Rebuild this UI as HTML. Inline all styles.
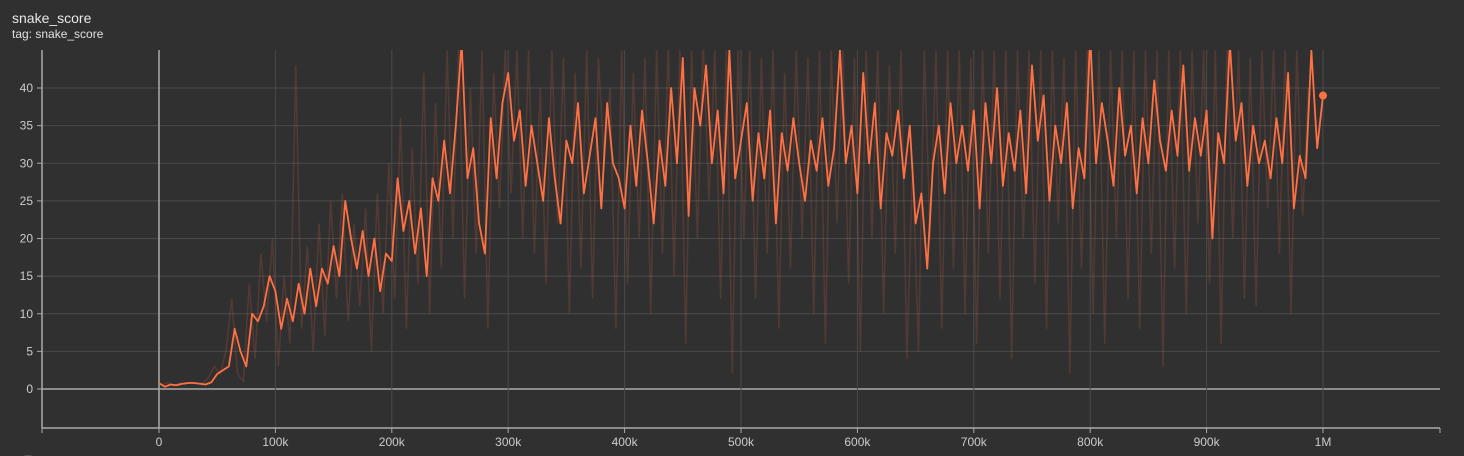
<!DOCTYPE html>
<html><head><meta charset="utf-8"><style>
html,body{margin:0;background:#303030;width:1464px;height:456px;overflow:hidden;font-family:"Liberation Sans",sans-serif}
#t{position:absolute;left:12px;top:10px;color:#e8e8e8;font-size:14px}
#s{position:absolute;left:12px;top:27px;color:#e0e0e0;font-size:12px}
svg{position:absolute;left:0;top:0;display:block}
</style></head><body>
<div id="t">snake_score</div>
<div id="s">tag: snake_score</div>
<svg id="c" width="1464" height="456"></svg>
<script>
const smoothValues=[0.8,0.3,0.6,0.5,0.7,0.8,0.8,0.7,0.6,0.9,2,2.5,3,8,5,3,10,9,11,15,13,8,12,9,14,10,16,11,16,14,19,15,25,20,16,21,15,20,13,18,17,28,21,25,18,24,15,28,25,33,26,35,46,28,32,22,18,36,28,38,42,33,37,27,35,30,25,36,28,22,33,30,38,26,31,36,24,38,30,28,24,35,27,37,30,22,33,27,40,30,44,23,40,35,43,30,37,26,45,28,33,38,25,34,28,37,22,34,29,36,30,25,33,29,36,27,32,45,30,35,26,42,30,38,24,34,31,37,28,35,22,26,16,30,35,26,38,30,35,29,37,24,38,30,40,27,34,29,37,26,43,33,39,25,35,30,38,24,32,28,47,30,38,33,27,40,31,35,26,36,30,41,33,29,37,31,43,29,36,31,37,20,34,30,46,33,38,27,35,30,33,28,36,30,42,24,31,28,45,32,39];
const rawValues=[0.5,0.9,0.4,0.8,0.6,0.9,0.7,0.8,1.5,3,2,5,12,2,1,14,4,18,9,20,3,15,6,43,8,19,5,22,7,25,12,26,9,22,11,24,5,26,10,30,12,36,8,32,14,42,10,38,16,45,20,46,12,40,18,45,8,42,24,45,26,45,20,45,18,40,14,45,22,44,10,42,16,45,12,44,30,40,8,45,14,42,20,44,10,45,18,46,15,45,6,45,20,46,25,45,12,45,2,45,20,45,12,44,18,45,8,42,16,45,20,44,10,45,6,45,22,45,14,44,5,45,20,45,10,43,18,45,4,30,5,45,20,45,8,45,16,45,10,44,6,45,18,45,12,45,4,45,20,45,14,45,8,45,22,44,2,45,16,45,10,45,6,45,20,45,12,45,8,45,18,45,3,45,16,45,10,45,22,45,14,45,6,45,20,45,12,44,11,45,24,45,18,45,10,45,23,40];
const xTickLabels=["0","100k","200k","300k","400k","500k","600k","700k","800k","900k","1M"];
const yTickValues=[0,5,10,15,20,25,30,35,40];
const NS="http://www.w3.org/2000/svg",svg=document.getElementById('c');
const X=v=>159+v*0.001164, Y=v=>389-7.525*v;
function el(t,a){const e=document.createElementNS(NS,t);for(const k in a)e.setAttribute(k,a[k]);svg.appendChild(e);return e;}
const cp=el('clipPath',{id:'cp'});const r=document.createElementNS(NS,'rect');r.setAttribute('x',42);r.setAttribute('y',50);r.setAttribute('width',1398);r.setAttribute('height',378);cp.appendChild(r);
yTickValues.forEach(v=>{const g=el('line',{x1:42,x2:1440,y1:Y(v),y2:Y(v),stroke:v==0?'#aaa':'#4a4a4a','stroke-width':v==0?1.5:1});
el('line',{x1:37,x2:42,y1:Y(v),y2:Y(v),stroke:'#aaa'});
const t=el('text',{x:33,y:Y(v)+4,'text-anchor':'end',fill:'#ccc','font-size':12,'font-family':'Liberation Sans'});t.textContent=v;});
xTickLabels.forEach((l,i)=>{const x=X(i*100000);const g=el('line',{x1:x,x2:x,y1:50,y2:428,stroke:i==0?'#aaa':'#4a4a4a','stroke-width':i==0?1.5:1});
el('line',{x1:x,x2:x,y1:428,y2:433,stroke:'#aaa'});
const t=el('text',{x:x,y:446,'text-anchor':'middle',fill:'#ccc','font-size':12,'font-family':'Liberation Sans'});t.textContent=l;});
el('line',{x1:42,x2:1440,y1:428,y2:428,stroke:'#aaa','stroke-width':1.5});
el('line',{x1:42,x2:42,y1:50,y2:428,stroke:'#aaa','stroke-width':1.5});
el('line',{x1:42,x2:42,y1:428,y2:433,stroke:'#aaa'});el('line',{x1:1440,x2:1440,y1:428,y2:433,stroke:'#aaa'});
const raw=el('polyline',{points:rawValues.map((v,i)=>X(2500+i*5000)+','+Y(v)).join(' '),fill:'none',stroke:'rgba(255,112,67,0.16)','stroke-width':1.6,'clip-path':'url(#cp)'});

const sm=el('polyline',{points:smoothValues.map((v,i)=>X(i*5000)+','+Y(v)).join(' '),fill:'none',stroke:'#ff7043','stroke-width':1.8,'stroke-linejoin':'round','clip-path':'url(#cp)'});

const n=smoothValues.length-1;const d=el('circle',{cx:X(n*5000),cy:Y(smoothValues[n]),r:4,fill:'#ff7043'});

const b=el('circle',{cx:28,cy:470,r:15,fill:'#555'});
</script></body></html>
